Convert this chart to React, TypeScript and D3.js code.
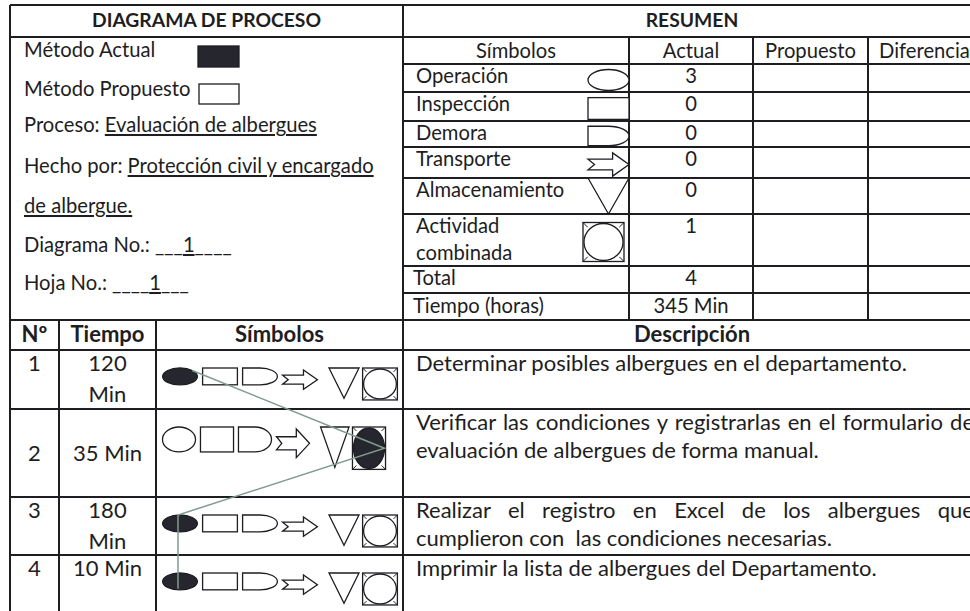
import React, { useLayoutEffect, useRef, useState } from "react";
import * as d3 from "d3";

// ---- data ----
const symbolTypes = ["op", "insp", "delay", "transport", "storage", "combined"];
const symbolNames = [["Operación"], ["Inspección"], ["Demora"], ["Transporte"], ["Almacenamiento"], ["Actividad", "combinada"]];
const summaryHeaders = ["Símbolos", "Actual", "Propuesto", "Diferencia"];
const summaryActual = ["3", "0", "0", "0", "0", "1"];
const summaryTotal = "4";
const summaryTime = "345 Min";

const stepNumbers = ["1", "2", "3", "4"];
const stepTimes = [["120", "Min"], ["35 Min"], ["180", "Min"], ["10 Min"]];
const stepTypes = ["op", "combined", "op", "op"];
const stepDescriptions = [
  ["Determinar posibles albergues en el departamento."],
  ["Verificar las condiciones y registrarlas en el formulario de", "evaluación de albergues de forma manual."],
  ["Realizar el registro en Excel de los albergues que", "cumplieron con  las condiciones necesarias."],
  ["Imprimir la lista de albergues del Departamento."],
];
const stepHeaders = ["Nº", "Tiempo", "Símbolos", "Descripción"];

// [text, underlined]
const infoLines: [string, boolean][][] = [
  [["Método Actual", false]],
  [["Método Propuesto", false]],
  [["Proceso: ", false], ["Evaluación de albergues", true]],
  [["Hecho por: ", false], ["Protección civil y encargado", true]],
  [["de albergue.", true]],
  [["Diagrama No.: ___", false], ["1", true], ["____", false]],
  [["Hoja No.: ____", false], ["1", true], ["___", false]],
];

// ---- layout ----
const X0 = 10, XM = 403, XR = 981, Y0 = 5, YT = 37, YB = 320;
const SUM_ROWS = [37, 64, 92, 121, 147, 178, 214, 266, 293, 320];
const SUM_COLS = [403, 629, 753, 868, 981];
const STEP_COLS = [10, 59, 156, 403, 981];
const STEP_ROWS = [320, 350, 409, 497, 555, 614]; // header, then four steps
const INFO_BASE = [57, 96, 132, 173, 213, 252, 290];

const INK = "#1d1d22";
const DARK = "#26262f";
const LINK = "#7f9c8e";
const FONT = "Lato, 'Open Sans', sans-serif";
const FS_TOP = 20.2;
const FS_BOT = 22;

function Sym({ type, x, y, w, h, filled }: any) {
  const fill = filled ? DARK : "#fff";
  const common = { stroke: INK, strokeWidth: 1.3, fill };
  if (type === "op") return <ellipse cx={x + w / 2} cy={y + h / 2} rx={w / 2} ry={h / 2} {...common} />;
  if (type === "insp") return <rect x={x} y={y} width={w} height={h} {...common} />;
  if (type === "delay") {
    const d = `M${x},${y}H${x + w / 2}A${w / 2},${h / 2} 0 0 1 ${x + w / 2},${y + h}H${x}Z`;
    return <path d={d} {...common} />;
  }
  if (type === "transport") {
    const pts: [number, number][] = [
      [x, y + 0.27 * h], [x + 0.6 * w, y + 0.27 * h], [x + 0.6 * w, y], [x + w, y + h / 2],
      [x + 0.6 * w, y + h], [x + 0.6 * w, y + 0.73 * h], [x, y + 0.73 * h], [x + 0.16 * w, y + h / 2],
    ];
    return <path d={d3.line()(pts) + "Z"} {...common} fill="#fff" />;
  }
  if (type === "storage") {
    const pts: [number, number][] = [[x, y], [x + w, y], [x + w / 2, y + h]];
    return <path d={d3.line()(pts) + "Z"} {...common} fill="#fff" />;
  }
  // combined: square with inscribed circle
  const t = Math.min(w, h) * 0.12;
  return (
    <g>
      <rect x={x} y={y} width={w} height={h} stroke={INK} strokeWidth={1.3} fill="#fff" />
      <ellipse cx={x + w / 2} cy={y + h / 2} rx={w / 2 - 1} ry={h / 2 - 1} {...common} />
      {[[x, y, 1, 1], [x + w, y, -1, 1], [x, y + h, 1, -1], [x + w, y + h, -1, -1]].map(([cx, cy, sx, sy], i) => (
        <line key={i} x1={cx} y1={cy} x2={cx + sx * t} y2={cy + sy * t} stroke={INK} strokeWidth={1} />
      ))}
    </g>
  );
}

function JustText({ x, y, width, text }: any) {
  const ref = useRef<SVGTextElement>(null);
  const [ws, setWs] = useState(0);
  useLayoutEffect(() => {
    const el = ref.current;
    if (!el) return;
    el.style.wordSpacing = "0px";
    const len = el.getComputedTextLength();
    const gaps = (text.match(/ /g) || []).length;
    setWs(gaps ? Math.max(0, (width - len) / gaps) : 0);
  }, [text, width]);
  return (
    <text ref={ref} x={x} y={y} style={{ wordSpacing: ws + "px", whiteSpace: "pre" }}>
      {text}
    </text>
  );
}

export default function App() {
  const band = (tall: boolean) =>
    d3.scaleBand().domain(symbolTypes).range([160, tall ? 388 : 400]);

  const stepSyms = stepTypes.map((active, i) => {
    const rowTop = STEP_ROWS[i + 1];
    const rowH = STEP_ROWS[i + 2] - rowTop;
    const tall = rowH > 70;
    const sc = band(tall);
    const bw = sc.bandwidth();
    const u = (tall ? 86 : 58) * 0.29;
    return symbolTypes.map((t) => {
      const mult = t === "transport" ? 1.15 : t === "storage" ? (tall ? 1.62 : 1.8) : t === "combined" ? (tall ? 1.7 : 1.9) : 1;
      const w = t === "storage" ? bw * 0.75 : bw * 0.87;
      const h = u * mult;
      const x = (sc(t) as number) + (bw - w) / 2 + (t === "storage" ? bw * 0.1 : 0);
      const y = rowTop + 18 + (t === "transport" ? 2 : 0);
      return { t, x, y, w, h, filled: t === active };
    });
  });

  // connector between the active symbols
  const anchors = ["upperRight", "right", "top", "bottom"];
  const linkPts: [number, number][] = stepTypes.map((active, i) => {
    const s = stepSyms[i].find((d) => d.t === active)!;
    const cx = s.x + s.w / 2, cy = s.y + s.h / 2;
    const a = anchors[i];
    if (a === "upperRight") return [cx + 0.7 * s.w / 2, cy - 0.7 * s.h / 2];
    if (a === "right") return [s.x + s.w - 1, cy];
    if (a === "top") return [cx - 2, s.y];
    return [cx - 2, s.y + s.h - 1];
  });

  const hLine = (y: number, x1: number, x2: number, k: string) => (
    <line key={k} x1={x1} x2={x2} y1={y} y2={y} stroke={INK} strokeWidth={2} />
  );
  const vLine = (x: number, y1: number, y2: number, k: string) => (
    <line key={k} x1={x} x2={x} y1={y1} y2={y2} stroke={INK} strokeWidth={2} />
  );
  const colMid = (cols: number[], i: number) => (cols[i] + cols[i + 1]) / 2;

  return (
    <svg width={970} height={611} style={{ position: "absolute", left: 0, top: 0, background: "#fff" }}
      fontFamily={FONT} fontSize={FS_TOP} fill={INK}>
      <rect width={970} height={611} fill="#fff" />

      {/* grid */}
      {hLine(Y0, X0, XR, "top")}
      {vLine(X0, Y0, 611, "left")}
      {vLine(XM, Y0, 611, "mid")}
      {hLine(YT, X0, XR, "yt")}
      {SUM_ROWS.slice(1, -1).map((y, i) => hLine(y, XM, XR, "sr" + i))}
      {SUM_COLS.slice(1, -1).map((x, i) => vLine(x, YT, YB, "sc" + i))}
      {STEP_ROWS.slice(0, -1).map((y, i) => hLine(y, X0, XR, "tr" + i))}
      {STEP_COLS.slice(1, 3).map((x, i) => vLine(x, YB, 611, "tc" + i))}

      {/* titles */}
      <text x={(X0 + XM) / 2} y={27} textAnchor="middle" fontWeight="bold" fontSize={19.3}>DIAGRAMA DE PROCESO</text>
      <text x={(XM + XR) / 2} y={27} textAnchor="middle" fontWeight="bold" fontSize={19.3}>RESUMEN</text>

      {/* info panel */}
      {infoLines.map((segs, i) => (
        <text key={i} x={24} y={INFO_BASE[i]} style={{ whiteSpace: "pre" }}>
          {segs.map(([s, u], j) => (
            <tspan key={j} textDecoration={u ? "underline" : undefined}>{s}</tspan>
          ))}
        </text>
      ))}
      <rect x={198} y={46} width={41} height={21} fill={DARK} stroke={INK} strokeWidth={1.3} />
      <rect x={199} y={84} width={40} height={20} fill="#fff" stroke={INK} strokeWidth={1.3} />

      {/* summary table */}
      {summaryHeaders.map((h, i) => (
        <text key={h} x={colMid(SUM_COLS, i)} y={SUM_ROWS[0] + 21} textAnchor="middle">{h}</text>
      ))}
      {symbolTypes.map((t, i) => {
        const top = SUM_ROWS[i + 1], bot = SUM_ROWS[i + 2];
        const rh = bot - top;
        const h = t === "storage" ? rh : rh * 0.75;
        const w = 41;
        const x = (t === "combined" ? SUM_COLS[1] - 5 : SUM_COLS[1]) - w;
        const y = t === "storage" ? top : (top + bot) / 2 + 2 - h / 2;
        return (
          <g key={t}>
            {symbolNames[i].map((n, j) => (
              <text key={j} x={416} y={top + 19 + j * 27}>{n}</text>
            ))}
            <Sym type={t} x={x} y={y} w={w} h={h} filled={false} />
            <text x={colMid(SUM_COLS, 1)} y={top + 19} textAnchor="middle">{summaryActual[i]}</text>
          </g>
        );
      })}
      <text x={413} y={SUM_ROWS[7] + 19}>Total</text>
      <text x={colMid(SUM_COLS, 1)} y={SUM_ROWS[7] + 19} textAnchor="middle">{summaryTotal}</text>
      <text x={413} y={SUM_ROWS[8] + 20}>Tiempo (horas)</text>
      <text x={colMid(SUM_COLS, 1)} y={SUM_ROWS[8] + 20} textAnchor="middle">{summaryTime}</text>

      {/* steps table */}
      <g fontSize={FS_BOT}>
        {stepHeaders.map((h, i) => (
          <text key={h} x={i === 3 ? (XM + XR) / 2 : colMid(STEP_COLS, i)} y={STEP_ROWS[0] + 22}
            textAnchor="middle" fontWeight="bold" fontSize={22}>{h}</text>
        ))}
        {stepNumbers.map((n, i) => {
          const top = STEP_ROWS[i + 1], bot = STEP_ROWS[i + 2];
          const middle = i === 1;
          const base = middle ? (top + bot) / 2 + 8 : top + 21;
          return (
            <g key={n}>
              <text x={colMid(STEP_COLS, 0)} y={base} textAnchor="middle">{n}</text>
              {stepTimes[i].map((s, j) => (
                <text key={j} x={colMid(STEP_COLS, 1)} y={base + j * 31} textAnchor="middle">{s}</text>
              ))}
              {stepDescriptions[i].map((s, j, arr) =>
                j < arr.length - 1 ? (
                  <JustText key={j} x={416} y={top + 21 + j * 27.5} width={XR - 7 - 416} text={s} />
                ) : (
                  <text key={j} x={416} y={top + 21 + j * 27.5} style={{ whiteSpace: "pre" }}>{s}</text>
                )
              )}
              {stepSyms[i].map((d) => (
                <Sym key={d.t} type={d.t} x={d.x} y={d.y} w={d.w} h={d.h} filled={d.filled} />
              ))}
            </g>
          );
        })}
      </g>
      <path d={d3.line()(linkPts) || ""} fill="none" stroke={LINK} strokeWidth={1.5} />
    </svg>
  );
}
